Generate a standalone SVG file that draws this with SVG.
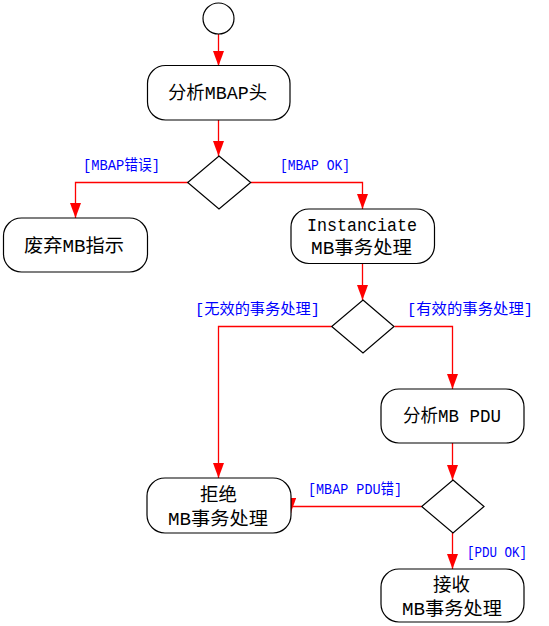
<svg xmlns="http://www.w3.org/2000/svg" width="549" height="626" viewBox="0 0 549 626">
<style>
.node{fill:#ffffff;stroke:#000000;stroke-width:1.2}
.nt{font-family:"Liberation Mono","Noto Sans CJK SC",monospace;font-size:18.5px;fill:#000000}
.lb{font-family:"Liberation Mono","Noto Sans CJK SC",monospace;font-size:15px;fill:#0000ff}
.cn{fill:none;stroke:#ff0000;stroke-width:1.3}
</style>
<defs>
<marker id="ah" markerWidth="15" markerHeight="11" refX="15" refY="5.5" orient="auto" markerUnits="userSpaceOnUse">
<path d="M0,0 L15,5.5 L0,11 z" fill="#ff0000"/>
</marker>
</defs>
<rect width="549" height="626" fill="#ffffff"/>
<g id="connectors">
<path class="cn" d="M218.5,34 V66" marker-end="url(#ah)"/>
<path class="cn" d="M218.5,120 V156" marker-end="url(#ah)"/>
<path class="cn" d="M188,182.5 H75.5 V218" marker-end="url(#ah)"/>
<path class="cn" d="M251,182.5 H362.5 V209" marker-end="url(#ah)"/>
<path class="cn" d="M362.5,263.5 V300" marker-end="url(#ah)"/>
<path class="cn" d="M331.5,326.5 H218.5 V478" marker-end="url(#ah)"/>
<path class="cn" d="M394.5,326.5 H452.5 V389" marker-end="url(#ah)"/>
<path class="cn" d="M452.5,443 V480" marker-end="url(#ah)"/>
<path class="cn" d="M421.5,506.5 H290.7 V513" marker-end="url(#ah)"/>
<path class="cn" d="M452.5,533 V569" marker-end="url(#ah)"/>
</g>
<g id="start"><circle class="node" cx="218.5" cy="18.5" r="15.5"/></g>
<g id="parse-mbap">
<rect class="node" x="147.5" y="65.5" width="142.5" height="54.5" rx="18" ry="18"/>
<text class="nt" x="168" y="99" textLength="99" lengthAdjust="spacingAndGlyphs">分析MBAP头</text>
</g>
<g id="decision1"><polygon class="node" points="219,156 250.7,182.5 219,209 187.7,182.5"/></g>
<g id="discard">
<rect class="node" x="3.5" y="218" width="144" height="54" rx="18" ry="18"/>
<text class="nt" x="24" y="252" textLength="100" lengthAdjust="spacingAndGlyphs">废弃MB指示</text>
</g>
<g id="instanciate">
<rect class="node" x="291" y="209" width="143.5" height="54.5" rx="18" ry="18"/>
<text class="nt" x="307" y="230.5" textLength="110" lengthAdjust="spacingAndGlyphs">Instanciate</text>
<text class="nt" x="311" y="254" textLength="101" lengthAdjust="spacingAndGlyphs">MB事务处理</text>
</g>
<g id="decision2"><polygon class="node" points="363,300 394,326.5 363,353 331.7,326.5"/></g>
<g id="parse-pdu">
<rect class="node" x="381" y="389" width="143" height="54" rx="18" ry="18"/>
<text class="nt" x="403" y="422" textLength="98" lengthAdjust="spacingAndGlyphs">分析MB PDU</text>
</g>
<g id="reject">
<rect class="node" x="147" y="478" width="144" height="55" rx="18" ry="18"/>
<text class="nt" x="200" y="501" textLength="37" lengthAdjust="spacingAndGlyphs">拒绝</text>
<text class="nt" x="168" y="525" textLength="100" lengthAdjust="spacingAndGlyphs">MB事务处理</text>
</g>
<g id="decision3"><polygon class="node" points="453,480 484,506.5 453,533 421.7,506.5"/></g>
<g id="accept">
<rect class="node" x="381" y="569" width="143" height="53" rx="18" ry="18"/>
<text class="nt" x="433" y="591" textLength="37" lengthAdjust="spacingAndGlyphs">接收</text>
<text class="nt" x="402" y="615" textLength="100" lengthAdjust="spacingAndGlyphs">MB事务处理</text>
</g>
<g id="labels">
<text class="lb" x="83" y="169.5" textLength="77" lengthAdjust="spacingAndGlyphs">[MBAP错误]</text>
<text class="lb" x="280" y="169.5" textLength="70" lengthAdjust="spacingAndGlyphs">[MBAP OK]</text>
<text class="lb" x="195" y="313.5" textLength="125" lengthAdjust="spacingAndGlyphs">[无效的事务处理]</text>
<text class="lb" x="407" y="313.5" textLength="126" lengthAdjust="spacingAndGlyphs">[有效的事务处理]</text>
<text class="lb" x="308" y="493.5" textLength="94" lengthAdjust="spacingAndGlyphs">[MBAP PDU错]</text>
<text class="lb" x="467" y="556.5" textLength="60" lengthAdjust="spacingAndGlyphs">[PDU OK]</text>
</g>
</svg>
